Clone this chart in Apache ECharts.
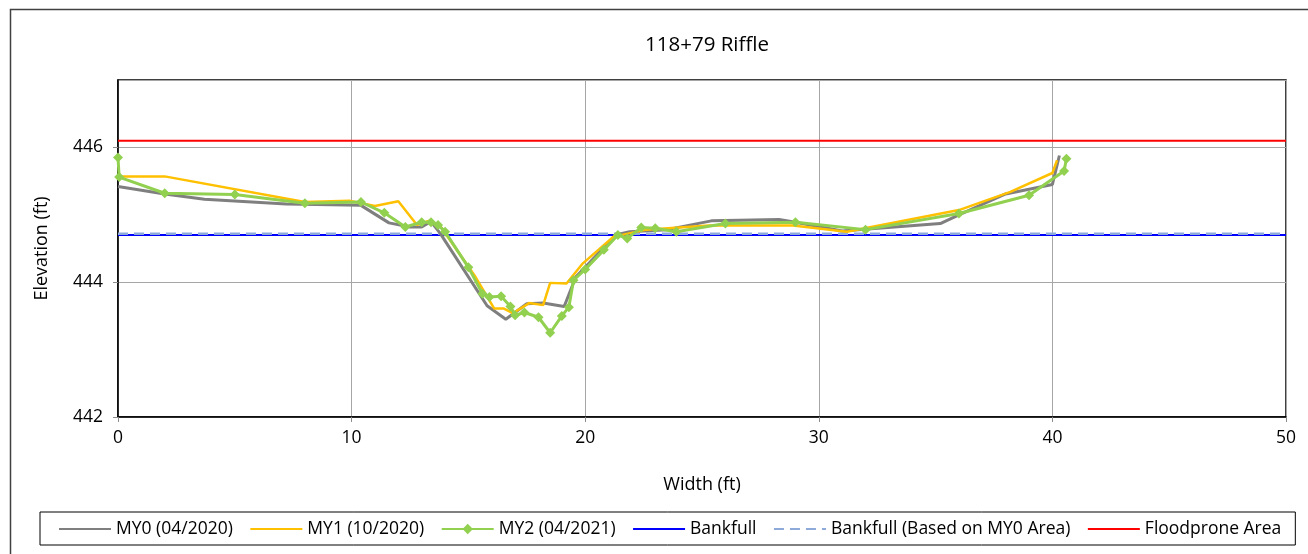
<!DOCTYPE html>
<html>
<head>
<meta charset="utf-8">
<script src="https://cdn.jsdelivr.net/npm/echarts@6/dist/echarts.min.js"></script>
<style>
html,body{margin:0;padding:0;background:#fff;}
#chart{width:1308px;height:554px;}
</style>
</head>
<body>
<div id="chart"></div>
<script>
const my0 = [[0,445.42],[2.0,445.31],[3.7,445.23],[7.2,445.16],[10.4,445.14],[11.6,444.88],[12.5,444.82],[13.0,444.82],[13.4,444.90],[13.8,444.72],[15.8,443.65],[16.6,443.45],[17.5,443.68],[18.2,443.69],[19.1,443.64],[19.6,444.08],[20.0,444.22],[21.3,444.70],[21.9,444.75],[23.5,444.78],[25.4,444.91],[28.3,444.93],[29.0,444.89],[31.0,444.76],[35.2,444.87],[36.0,445.00],[38.0,445.31],[40.0,445.45],[40.3,445.88]];
const my1 = [[0,445.57],[2.0,445.57],[8.0,445.19],[9.9,445.21],[11.0,445.13],[12.0,445.20],[12.8,444.85],[13.3,444.91],[13.8,444.83],[15.3,444.08],[16.1,443.61],[16.5,443.61],[16.9,443.54],[17.6,443.69],[18.2,443.66],[18.5,443.99],[19.2,443.98],[19.9,444.28],[21.2,444.67],[22.6,444.78],[25.3,444.84],[28.9,444.84],[31.2,444.75],[36.0,445.07],[38.2,445.34],[40.0,445.62],[40.2,445.81]];
const my2 = [[0,445.85],[0.05,445.56],[2.0,445.32],[5.0,445.30],[8.0,445.17],[10.4,445.19],[11.4,445.03],[12.3,444.82],[13.0,444.89],[13.4,444.89],[13.7,444.85],[14.0,444.75],[15.0,444.22],[15.6,443.83],[15.9,443.78],[16.4,443.79],[16.8,443.64],[17.0,443.51],[17.4,443.55],[18.0,443.48],[18.5,443.25],[19.0,443.50],[19.3,443.63],[19.5,444.03],[20.0,444.19],[20.8,444.48],[21.4,444.70],[21.8,444.65],[22.4,444.81],[23.0,444.80],[23.9,444.75],[26.0,444.87],[29.0,444.89],[32.0,444.78],[36.0,445.02],[39.0,445.29],[40.5,445.65],[40.6,445.83]];
const bankfull = [[0,444.70],[50,444.70]];
const bankfullMY0 = [[0,444.72],[50,444.72]];
const floodprone = [[0,446.10],[50,446.10]];
const seriesNames = ['MY0 (04/2020)','MY1 (10/2020)','MY2 (04/2021)','Bankfull','Bankfull (Based on MY0 Area)','Floodprone Area'];

const FONT = 'Open Sans';
const hideSym = {opacity:0};
const chart = echarts.init(document.getElementById('chart'));
chart.setOption({
  animation:false,
  backgroundColor:'#fff',
  textStyle:{fontFamily:FONT},
  graphic:[{type:'rect',left:8,top:7,shape:{width:1400,height:600},style:{fill:'none',stroke:'#404040',lineWidth:1.5},z:-1}],
  title:{text:'118+79 Riffle',left:702,textAlign:'center',top:30,textStyle:{fontFamily:FONT,fontSize:20.5,fontWeight:'normal',color:'#000'}},
  grid:{left:118,right:22,top:80,bottom:137,show:true,borderColor:'#000',borderWidth:1.5,backgroundColor:'transparent'},
  legend:{
    data:[
      {name:seriesNames[0],itemStyle:hideSym},
      {name:seriesNames[1],itemStyle:hideSym},
      {name:seriesNames[2]},
      {name:seriesNames[3],itemStyle:hideSym},
      {name:seriesNames[4],itemStyle:hideSym},
      {name:seriesNames[5],itemStyle:hideSym}
    ],
    left:40,top:512,padding:[8,14,7,18],itemGap:16.5,itemWidth:52,itemHeight:13,
    borderColor:'#000',borderWidth:1,
    textStyle:{fontFamily:FONT,fontSize:17.5,color:'#000'}
  },
  xAxis:{type:'value',min:0,max:50,interval:10,name:'Width (ft)',nameLocation:'middle',nameGap:59,
    nameTextStyle:{fontFamily:FONT,fontSize:18,color:'#000'},
    axisLine:{lineStyle:{color:'#000',width:1.5}},
    axisTick:{show:true,length:5,lineStyle:{color:'#8c8c8c'}},
    axisLabel:{fontSize:17.5,color:'#000',margin:12,fontFamily:FONT},
    splitLine:{show:true,lineStyle:{color:'#a6a6a6',width:1}}},
  yAxis:{type:'value',min:442,max:447,interval:2,name:'Elevation (ft)',nameLocation:'middle',nameGap:67,
    nameTextStyle:{fontFamily:FONT,fontSize:18,color:'#000'},
    axisLine:{show:true,lineStyle:{color:'#000',width:1.5}},
    axisTick:{show:true,length:5,lineStyle:{color:'#8c8c8c'}},
    axisLabel:{fontSize:17.5,color:'#000',margin:15,fontFamily:FONT,showMaxLabel:false},
    splitLine:{show:true,lineStyle:{color:'#a6a6a6',width:1}}},
  series:[
    {name:seriesNames[0],type:'line',data:my0,symbol:'none',lineStyle:{color:'#7f7f7f',width:3},itemStyle:{color:'#7f7f7f'},z:2},
    {name:seriesNames[1],type:'line',data:my1,symbol:'none',lineStyle:{color:'#ffc000',width:2.5},itemStyle:{color:'#ffc000'},z:3},
    {name:seriesNames[2],type:'line',data:my2,symbol:'diamond',symbolSize:10,lineStyle:{color:'#92d050',width:3},itemStyle:{color:'#92d050'},z:4},
    {name:seriesNames[3],type:'line',data:bankfull,symbol:'none',lineStyle:{color:'#0000ff',width:2},itemStyle:{color:'#0000ff'},z:1},
    {name:seriesNames[4],type:'line',data:bankfullMY0,symbol:'none',lineStyle:{color:'#8eaadb',width:2.5,type:[10,6]},itemStyle:{color:'#8eaadb'},z:1},
    {name:seriesNames[5],type:'line',data:floodprone,symbol:'none',lineStyle:{color:'#ff0000',width:2},itemStyle:{color:'#ff0000'},z:1}
  ]
});
</script>
</body>
</html>
